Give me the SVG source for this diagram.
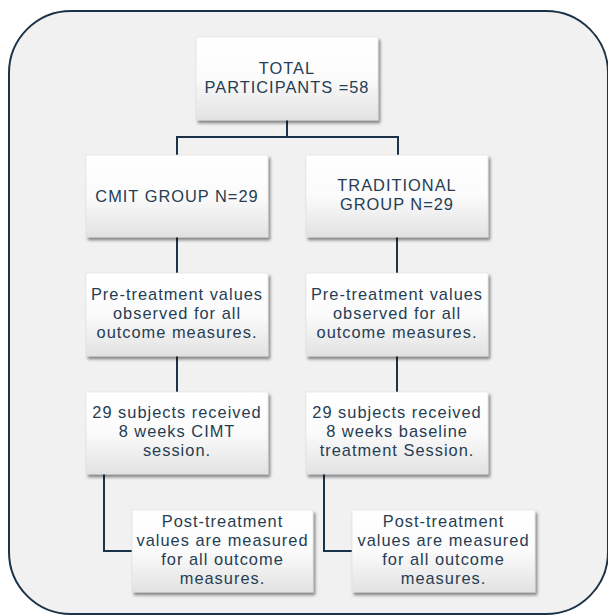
<svg xmlns="http://www.w3.org/2000/svg" width="608" height="615" viewBox="0 0 608 615">
<defs>
<linearGradient id="boxg" x1="0" y1="0" x2="0" y2="1">
<stop offset="0" stop-color="#ffffff"/>
<stop offset="0.5" stop-color="#fbfbfb"/>
<stop offset="1" stop-color="#e2e2e2"/>
</linearGradient>
<filter id="sh" x="-10%" y="-10%" width="125%" height="130%">
<feGaussianBlur in="SourceAlpha" stdDeviation="1.6"/>
<feOffset dx="1.5" dy="2.5" result="b"/>
<feComponentTransfer><feFuncA type="linear" slope="0.45"/></feComponentTransfer>
<feMerge><feMergeNode/><feMergeNode in="SourceGraphic"/></feMerge>
</filter>
</defs>
<style>
.box{fill:url(#boxg);stroke:#dcdcdc;stroke-width:0.6;filter:url(#sh)}
.t{font-family:"Liberation Sans",Arial,sans-serif;font-size:16.4px;fill:#263d53;text-anchor:middle;letter-spacing:1px}
.c{fill:none;stroke:#1b3348;stroke-width:2}
</style>
<rect x="9" y="11" width="599" height="603" rx="62" ry="62" fill="#f1f1f1" stroke="#1b3348" stroke-width="2"/>
<g id="connectors">
<path class="c" d="M287 120 V137 M177 155 V137 H398 V155"/>
<path class="c" d="M177 237 V273 M397 237 V273"/>
<path class="c" d="M177 356 V392 M397 356 V392"/>
<path class="c" d="M104 474 V551 H132 M324 474 V551 H352"/>
</g>
<g id="total">
<rect class="box" x="196" y="37" width="182" height="83"/>
<text class="t" x="287" y="74">TOTAL</text>
<text class="t" x="287" y="93">PARTICIPANTS =58</text>
</g>
<g id="cmit">
<rect class="box" x="86" y="155" width="182" height="82"/>
<text class="t" x="177" y="202">CMIT GROUP N=29</text>
</g>
<g id="traditional">
<rect class="box" x="306" y="155" width="182" height="82"/>
<text class="t" x="397" y="191">TRADITIONAL</text>
<text class="t" x="397" y="210">GROUP N=29</text>
</g>
<g id="pre-cmit">
<rect class="box" x="86" y="273" width="182" height="83"/>
<text class="t" x="177" y="300">Pre-treatment values</text>
<text class="t" x="177" y="319">observed for all</text>
<text class="t" x="177" y="338">outcome measures.</text>
</g>
<g id="pre-trad">
<rect class="box" x="306" y="273" width="182" height="83"/>
<text class="t" x="397" y="300">Pre-treatment values</text>
<text class="t" x="397" y="319">observed for all</text>
<text class="t" x="397" y="338">outcome measures.</text>
</g>
<g id="session-cmit">
<rect class="box" x="86" y="392" width="182" height="82"/>
<text class="t" x="177" y="418">29 subjects received</text>
<text class="t" x="177" y="437">8 weeks CIMT</text>
<text class="t" x="177" y="456">session.</text>
</g>
<g id="session-trad">
<rect class="box" x="306" y="392" width="182" height="82"/>
<text class="t" x="397" y="418">29 subjects received</text>
<text class="t" x="397" y="437">8 weeks baseline</text>
<text class="t" x="397" y="456">treatment Session.</text>
</g>
<g id="post-cmit">
<rect class="box" x="132" y="510" width="181" height="82"/>
<text class="t" x="222.5" y="527">Post-treatment</text>
<text class="t" x="222.5" y="546">values are measured</text>
<text class="t" x="222.5" y="565">for all outcome</text>
<text class="t" x="222.5" y="584">measures.</text>
</g>
<g id="post-trad">
<rect class="box" x="352" y="510" width="183" height="82"/>
<text class="t" x="443.5" y="527">Post-treatment</text>
<text class="t" x="443.5" y="546">values are measured</text>
<text class="t" x="443.5" y="565">for all outcome</text>
<text class="t" x="443.5" y="584">measures.</text>
</g>
</svg>
